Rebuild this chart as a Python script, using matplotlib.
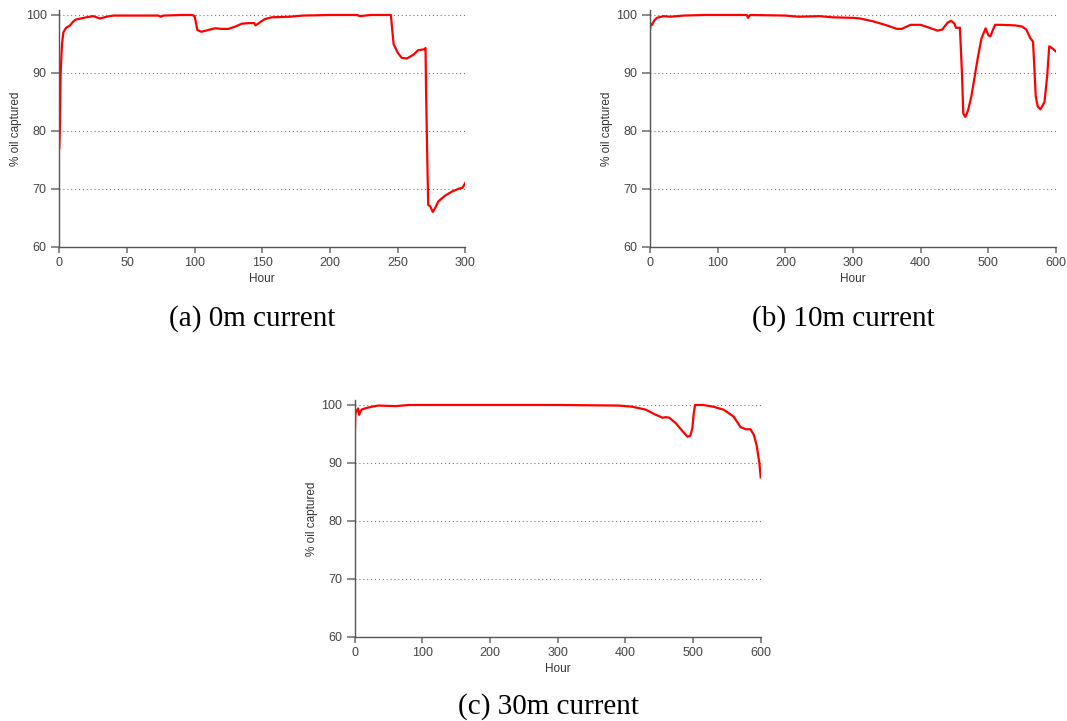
import matplotlib
matplotlib.use("Agg")
import matplotlib.pyplot as plt

# (a) 0m current
hour_a = [0, 0.5, 1, 2, 3, 5, 8, 10, 12, 16, 20, 25, 30, 35, 40, 50, 60, 73, 75, 77, 90, 98,
          100, 102, 105, 110, 115, 120, 125, 130, 135, 140, 144, 145, 148, 152, 157, 170, 180,
          200, 220, 222, 230, 245, 247, 250, 253, 257, 262, 265, 270, 270.6, 271, 272, 272.6,
          274, 276, 278, 280, 285, 290, 293, 295, 298, 300]
oil_a = [77, 81, 90, 95, 97, 97.8, 98.2, 98.8, 99.2, 99.4, 99.6, 99.8, 99.4, 99.7, 99.9, 99.9,
         99.9, 99.9, 99.7, 99.9, 100, 100, 99.8, 97.4, 97.1, 97.4, 97.7, 97.6, 97.6, 98.0, 98.5,
         98.6, 98.6, 98.2, 98.7, 99.3, 99.6, 99.7, 99.9, 100, 100, 99.8, 100, 100, 95, 93.5,
         92.6, 92.5, 93.2, 93.9, 94.1, 94.3, 87, 74, 67.2, 67, 66, 66.8, 67.8, 68.8, 69.5, 69.8,
         70, 70.2, 71]

# (b) 10m current
hour_b = [0, 1, 3, 6, 10, 20, 30, 50, 80, 100, 143, 145, 148, 200, 220, 250, 270, 300, 310,
          330, 350, 365, 372, 385, 400, 415, 425, 432, 440, 445, 450, 452, 458, 461, 463, 466,
          470, 475, 480, 485, 490, 496, 500, 503, 507, 510, 520, 540, 550, 556, 562, 566, 568,
          570, 573, 577, 583, 587, 590, 595, 600]
oil_b = [97.3, 98.5, 98.3, 99, 99.5, 99.8, 99.7, 99.9, 100, 100, 100, 99.5, 100, 99.9, 99.7,
         99.8, 99.6, 99.5, 99.4, 98.9, 98.2, 97.6, 97.6, 98.3, 98.3, 97.7, 97.3, 97.5, 98.7,
         99.0, 98.5, 97.8, 97.8, 90, 83, 82.4, 83.5, 86, 89.5, 93, 96, 97.7, 96.5, 96.3, 97.5,
         98.3, 98.3, 98.2, 98.0, 97.5, 96, 95.4, 91, 86, 84.2, 83.7, 85, 89.5, 94.6, 94.2, 93.7]

# (c) 30m current
hour_c = [0, 1, 3, 5, 6.5, 10, 15, 25, 35, 60, 80, 100, 200, 300, 390, 410, 430, 445, 455, 460,
          465, 475, 485, 492, 496, 499, 501, 503, 515, 530, 545, 560, 570, 578, 585, 590, 594,
          598, 600]
oil_c = [94, 98.5, 99, 99.4, 98.3, 99.2, 99.4, 99.7, 99.9, 99.8, 100, 100, 100, 100, 99.9, 99.7,
         99.2, 98.3, 97.8, 97.9, 97.8, 96.8, 95.4, 94.5, 94.7, 96, 98.5, 100, 100, 99.7, 99.2,
         98, 96.2, 95.8, 95.8, 94.8, 93, 90, 87.5]

W, H = 1067, 721
AW, AH = 406, 236.7
fig = plt.figure(figsize=(W / 100, H / 100), dpi=100)

def make_axes(left, top, x, y, xmax, xticks, caption, cap_x, cap_base):
    # pixel positions -> figure fractions
    ax = fig.add_axes([left / W, (H - top - AH) / H, AW / W, AH / H])
    ax.plot(x, y, color='red', lw=1.6)
    ax.set_xlim(0, xmax)
    ax.set_ylim(60, 100.86)
    ax.set_xticks(xticks)
    ax.set_yticks([60, 70, 80, 90, 100])
    ax.grid(axis='y', linestyle=(0, (1, 2.5)), color='#777777', lw=0.8)
    for s in ['top', 'right']:
        ax.spines[s].set_visible(False)
    for s in ['left', 'bottom']:
        ax.spines[s].set_color('#555555')
        ax.spines[s].set_linewidth(1.0)
    ax.tick_params(colors='#777777', labelcolor='#444444', labelsize=9, width=1.2,
                   direction='out')
    ax.tick_params(axis='y', length=6, pad=3)
    ax.tick_params(axis='x', length=4.5, pad=3)
    for lab in ax.get_xticklabels() + ax.get_yticklabels():
        lab.set_family('Liberation Sans')
    ax.set_xlabel('Hour', fontsize=8.5, family='Liberation Sans', color='#333333')
    ax.set_ylabel('% oil captured', fontsize=8.5, family='Liberation Sans', color='#333333')
    ax.yaxis.set_label_coords(-37 / AW, 0.5)
    ax.xaxis.set_label_coords(0.5, -26 / AH)
    fig.text(cap_x / W, 1 - cap_base / H, caption, ha='center', va='baseline',
             family='Liberation Serif', fontsize=21)
    return ax

make_axes(59.3, 10, hour_a, oil_a, 300, [0, 50, 100, 150, 200, 250, 300], '(a) 0m current', 252, 326)
make_axes(650, 10, hour_b, oil_b, 600, [0, 100, 200, 300, 400, 500, 600], '(b) 10m current', 843, 326)
make_axes(354.7, 400, hour_c, oil_c, 600, [0, 100, 200, 300, 400, 500, 600], '(c) 30m current', 548, 714)

fig.savefig('out.png', dpi=100)
